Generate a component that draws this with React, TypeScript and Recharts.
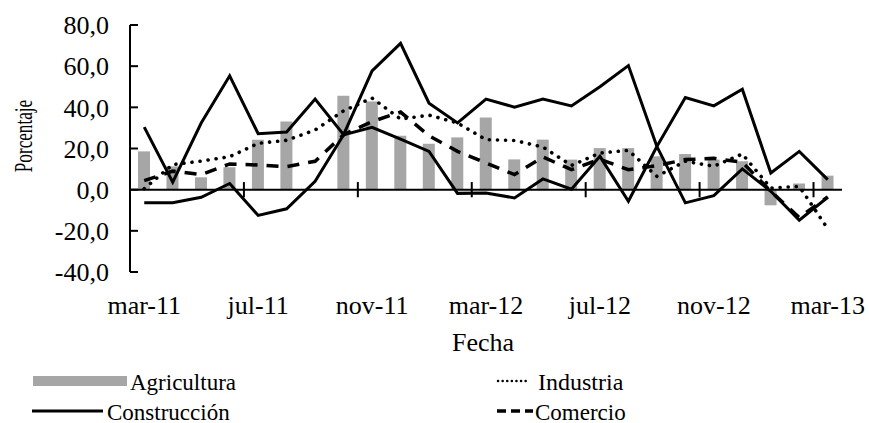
import React from 'react';
import { ComposedChart, Bar, Line, XAxis, YAxis, ReferenceLine } from 'recharts';

const months = ['mar-11', 'abr-11', 'may-11', 'jun-11', 'jul-11', 'ago-11', 'sep-11', 'oct-11', 'nov-11', 'dic-11', 'ene-12', 'feb-12', 'mar-12', 'abr-12', 'may-12', 'jun-12', 'jul-12', 'ago-12', 'sep-12', 'oct-12', 'nov-12', 'dic-12', 'ene-13', 'feb-13', 'mar-13'];
const agricultura = [18.6, 11.3, 6.0, 10.9, 24.3, 33.1, null, 45.6, 42.8, 26.2, 22.3, 25.4, 35.1, 14.7, 24.3, 14.6, 20.2, 20.2, 16.2, 17.3, 14.6, 13.8, -7.6, 3.0, 6.8];
const construccion = [30.4, 3.6, 32.4, 55.3, 27.2, 28.0, 44.0, 26.7, 57.7, 71.1, 42.0, 32.4, 44.0, 40.1, 44.0, 40.7, 50.0, 60.3, 21.0, 44.8, 40.7, 48.8, 8.1, 18.6, 4.9];
const construccionB = [-6.4, -6.4, -3.7, 3.0, -12.5, -9.3, 4.1, 26.7, 30.3, 24.5, 18.6, -1.8, -1.6, -4.0, 5.2, 0.2, 16.2, -5.6, 21.0, -6.4, -2.9, 10.1, -0.8, -14.8, -3.7];
const industria = [0.5, 12.2, 13.9, 16.0, 22.5, 24.0, 29.0, 38.3, 44.5, 34.3, 36.2, 32.4, 24.3, 23.9, 20.7, 11.8, 17.8, 19.1, 6.5, 13.8, 11.4, 17.3, 0.8, 1.6, -19.0];
const comercio = [4.4, 9.0, 7.3, 12.5, 12.0, 11.2, 13.8, 26.7, 33.1, 37.7, 26.2, 18.6, 13.0, 7.3, 15.9, 9.7, 14.8, 9.7, 11.7, 14.6, 15.2, 13.3, -0.8, -13.5, -3.5];
const labelIdx = [0, 4, 8, 12, 16, 20, 24];
const crossIdx = [3.5, 7.5, 11.5, 15.5, 19.5, 23.5];
const yTicks = [-40, -20, 0, 20, 40, 60, 80];

const data = months.map((m, i) => ({
  i,
  mes: m,
  agricultura: agricultura[i],
  construccion: construccion[i],
  construccionB: construccionB[i],
  industria: industria[i],
  comercio: comercio[i],
}));

const FONT = '"Liberation Serif", "Times New Roman", serif';
const crossHalf = 3.7;

export default function App() {
  return (
    <div style={{ position: 'absolute', left: 0, top: 0, width: 869, height: 423, background: '#fff', fontFamily: FONT }}>
      <ComposedChart width={869} height={423} data={data} margin={{ top: 25, right: 27, left: 0, bottom: 0 }}>
        <XAxis
          dataKey="i"
          type="number"
          domain={[-0.5, 24.5]}
          ticks={labelIdx}
          tickFormatter={(v: number) => months[v]}
          axisLine={false}
          tickLine={false}
          tickSize={0}
          tickMargin={24}
          height={151}
          interval={0}
          tick={{ fill: '#000', fontSize: 26, fontFamily: FONT }}
        />
        <YAxis
          domain={[-40, 80]}
          ticks={yTicks}
          interval={0}
          width={130}
          tickFormatter={(v: number) => v.toFixed(1).replace('.', ',')}
          axisLine={{ stroke: '#000', strokeWidth: 2 }}
          tickLine={{ stroke: '#000', strokeWidth: 2 }}
          tickSize={-8}
          tickMargin={29}
          tick={{ fill: '#000', fontSize: 26, fontFamily: FONT }}
        />
        <Bar dataKey="agricultura" fill="#a6a6a6" barSize={12} isAnimationActive={false} />
        <ReferenceLine y={0} stroke="#000" strokeWidth={2} />
        {crossIdx.map((x) => (
          <ReferenceLine key={x} segment={[{ x, y: -crossHalf }, { x, y: crossHalf }]} stroke="#000" strokeWidth={2} />
        ))}
        <Line dataKey="industria" type="linear" stroke="#000" strokeWidth={3.6} strokeDasharray="0.1 8" strokeLinecap="round" dot={false} isAnimationActive={false} />
        <Line dataKey="comercio" type="linear" stroke="#000" strokeWidth={3.5} strokeDasharray="12 9" dot={false} isAnimationActive={false} />
        <Line dataKey="construccionB" type="linear" stroke="#000" strokeWidth={3} dot={false} isAnimationActive={false} />
        <Line dataKey="construccion" type="linear" stroke="#000" strokeWidth={3} dot={false} isAnimationActive={false} />
      </ComposedChart>
      <svg width={869} height={423} style={{ position: 'absolute', left: 0, top: 0, pointerEvents: 'none' }}>
        <g transform="translate(32 136) rotate(-90) scale(0.66 1)">
          <text x={0} y={0} textAnchor="middle" fontSize={26} fontFamily={FONT} fill="#000">Porcentaje</text>
        </g>
        <text x={483} y={351} textAnchor="middle" fontSize={26} fontFamily={FONT} fill="#000">Fecha</text>
        <rect x={33} y={376} width={94} height={10} fill="#a6a6a6" />
        <text x={130} y={390} fontSize={23} fontFamily={FONT} fill="#000">Agricultura</text>
        <line x1={32} y1={411} x2={103} y2={411} stroke="#000" strokeWidth={3} />
        <text x={107} y={419.5} fontSize={23} fontFamily={FONT} fill="#000">Construcción</text>
        <line x1={498} y1={381} x2={527} y2={381} stroke="#000" strokeWidth={2.5} strokeDasharray="0.1 4.5" strokeLinecap="round" />
        <text x={538} y={390} fontSize={24} fontFamily={FONT} fill="#000">Industria</text>
        <line x1={497} y1={411} x2={533} y2={411} stroke="#000" strokeWidth={3.5} strokeDasharray="9 5" />
        <text x={535} y={419.5} fontSize={23} fontFamily={FONT} fill="#000">Comercio</text>
      </svg>
    </div>
  );
}
